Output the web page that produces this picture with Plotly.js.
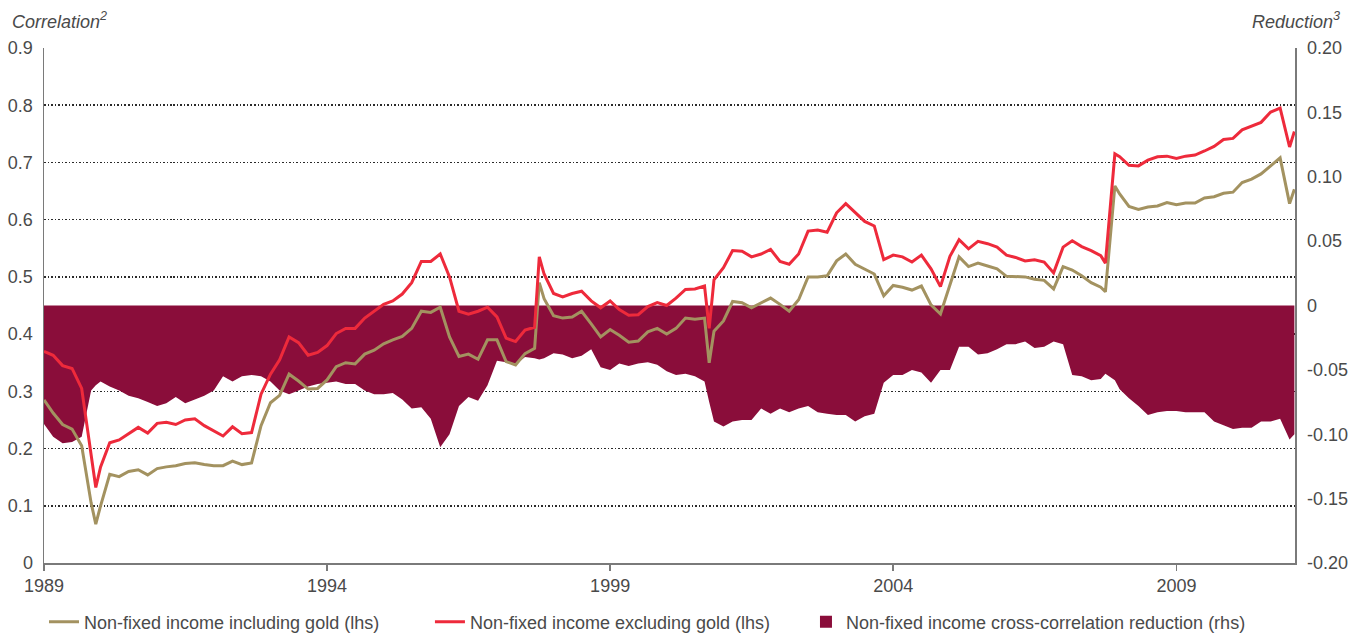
<!DOCTYPE html>
<html>
<head>
<meta charset="utf-8">
<script src="https://cdn.plot.ly/plotly-3.0.1.min.js"></script>
<style>
  html, body { margin: 0; padding: 0; background: #ffffff; }
  #chart { width: 1358px; height: 633px; }
</style>
</head>
<body>
<div id="chart"></div>
<script>
// ---- Data ----
const dates = [
  '1989-01','1989-03','1989-05','1989-07','1989-09','1989-11','1989-12',
  '1990-01','1990-03','1990-05','1990-07','1990-09','1990-11',
  '1991-01','1991-03','1991-05','1991-07','1991-09','1991-11',
  '1992-01','1992-03','1992-05','1992-07','1992-09','1992-11',
  '1993-01','1993-03','1993-05','1993-07','1993-09','1993-11',
  '1994-01','1994-03','1994-05','1994-07','1994-09','1994-11',
  '1995-01','1995-03','1995-05','1995-07','1995-09','1995-11',
  '1996-01','1996-03','1996-05','1996-07','1996-09','1996-11',
  '1997-01','1997-03','1997-05','1997-07','1997-09','1997-10','1997-11',
  '1998-01','1998-03','1998-05','1998-07','1998-09','1998-11',
  '1999-01','1999-03','1999-05','1999-07','1999-09','1999-11',
  '2000-01','2000-03','2000-05','2000-07','2000-09','2000-10','2000-11',
  '2001-01','2001-03','2001-05','2001-07','2001-09','2001-11',
  '2002-01','2002-03','2002-05','2002-07','2002-09','2002-11',
  '2003-01','2003-03','2003-05','2003-07','2003-09','2003-11',
  '2004-01','2004-03','2004-05','2004-07','2004-09','2004-11',
  '2005-01','2005-03','2005-05','2005-07','2005-09','2005-11',
  '2006-01','2006-03','2006-05','2006-07','2006-09','2006-11',
  '2007-01','2007-03','2007-05','2007-07','2007-09','2007-10','2007-12',
  '2008-01','2008-03','2008-05','2008-07','2008-09','2008-11',
  '2009-01','2009-03','2009-05','2009-07','2009-09','2009-11',
  '2010-01','2010-03','2010-05','2010-07','2010-09','2010-11',
  '2011-01','2011-02'
];

const excludingGold = [
  0.370,0.363,0.345,0.340,0.305,0.190,0.132,
  0.168,0.210,0.215,0.226,0.237,0.227,
  0.244,0.246,0.242,0.250,0.252,0.240,
  0.231,0.222,0.238,0.226,0.228,0.295,
  0.330,0.355,0.395,0.385,0.363,0.368,
  0.380,0.401,0.410,0.410,0.428,0.440,
  0.452,0.458,0.470,0.490,0.527,0.527,
  0.540,0.500,0.440,0.435,0.440,0.447,
  0.430,0.393,0.387,0.407,0.412,0.535,0.505,
  0.471,0.465,0.471,0.475,0.458,0.446,
  0.458,0.443,0.433,0.434,0.448,0.455,
  0.450,0.463,0.478,0.479,0.484,0.410,0.495,
  0.516,0.546,0.545,0.535,0.540,0.548,
  0.527,0.522,0.540,0.580,0.582,0.578,
  0.612,0.628,0.612,0.597,0.589,0.530,
  0.538,0.535,0.526,0.538,0.514,0.483,
  0.536,0.565,0.549,0.562,0.558,0.552,
  0.538,0.534,0.528,0.530,0.526,0.507,
  0.552,0.563,0.553,0.546,0.537,0.524,0.715,
  0.710,0.695,0.694,0.704,0.710,0.711,
  0.707,0.711,0.713,0.720,0.728,0.740,
  0.742,0.757,0.764,0.770,0.788,0.795,
  0.727,0.754
];

const includingGold = [
  0.285,0.262,0.242,0.234,0.205,0.105,0.068,
  0.100,0.155,0.151,0.160,0.163,0.154,
  0.165,0.168,0.170,0.174,0.175,0.172,
  0.170,0.170,0.178,0.172,0.175,0.240,
  0.280,0.293,0.330,0.318,0.304,0.305,
  0.320,0.343,0.350,0.348,0.365,0.372,
  0.383,0.390,0.396,0.410,0.440,0.438,
  0.447,0.395,0.361,0.365,0.356,0.390,
  0.390,0.352,0.346,0.366,0.375,0.490,0.462,
  0.432,0.428,0.430,0.440,0.418,0.395,
  0.408,0.398,0.386,0.388,0.404,0.410,
  0.400,0.410,0.428,0.426,0.428,0.350,0.405,
  0.423,0.457,0.455,0.446,0.454,0.463,
  0.452,0.440,0.460,0.500,0.500,0.502,
  0.528,0.540,0.522,0.514,0.505,0.467,
  0.485,0.482,0.477,0.484,0.451,0.435,
  0.486,0.535,0.518,0.524,0.519,0.514,
  0.501,0.500,0.500,0.496,0.494,0.479,
  0.518,0.512,0.502,0.490,0.482,0.474,0.659,
  0.645,0.623,0.618,0.622,0.624,0.630,
  0.626,0.629,0.629,0.638,0.640,0.646,
  0.648,0.665,0.671,0.680,0.694,0.708,
  0.628,0.653
];

const reduction = [
  -0.092,-0.102,-0.107,-0.106,-0.102,-0.066,-0.062,
  -0.059,-0.063,-0.066,-0.070,-0.072,-0.075,
  -0.078,-0.076,-0.071,-0.076,-0.073,-0.070,
  -0.066,-0.055,-0.059,-0.055,-0.054,-0.055,
  -0.059,-0.066,-0.069,-0.066,-0.063,-0.061,
  -0.060,-0.059,-0.061,-0.061,-0.066,-0.069,
  -0.069,-0.068,-0.073,-0.080,-0.079,-0.088,
  -0.110,-0.100,-0.078,-0.071,-0.074,-0.062,
  -0.043,-0.044,-0.046,-0.040,-0.041,-0.042,-0.041,
  -0.037,-0.038,-0.041,-0.039,-0.034,-0.048,
  -0.050,-0.045,-0.047,-0.045,-0.044,-0.046,
  -0.051,-0.054,-0.053,-0.055,-0.059,-0.075,-0.090,
  -0.094,-0.090,-0.089,-0.089,-0.080,-0.084,
  -0.080,-0.083,-0.080,-0.078,-0.083,-0.084,
  -0.085,-0.085,-0.090,-0.086,-0.084,-0.060,
  -0.054,-0.054,-0.050,-0.052,-0.060,-0.050,
  -0.050,-0.032,-0.032,-0.038,-0.037,-0.034,
  -0.030,-0.030,-0.028,-0.033,-0.032,-0.028,
  -0.030,-0.054,-0.055,-0.058,-0.057,-0.053,-0.058,
  -0.065,-0.072,-0.078,-0.085,-0.083,-0.082,
  -0.082,-0.083,-0.083,-0.083,-0.090,-0.093,
  -0.096,-0.095,-0.095,-0.090,-0.090,-0.088,
  -0.104,-0.100
];

const xTickVals = ['1989-01-01','1994-01-01','1999-01-01','2004-01-01','2009-01-01'];
const xTickText = ['1989','1994','1999','2004','2009'];
const leftTickVals = [0,0.1,0.2,0.3,0.4,0.5,0.6,0.7,0.8,0.9];
const leftTickText = ['0','0.1','0.2','0.3','0.4','0.5','0.6','0.7','0.8','0.9'];
const rightTickVals = [-0.2,-0.15,-0.1,-0.05,0,0.05,0.1,0.15,0.2];
const rightTickText = ['-0.20','-0.15','-0.10','-0.05','0','0.05','0.10','0.15','0.20'];

const seriesNames = [
  'Non-fixed income including gold (lhs)',
  'Non-fixed income excluding gold (lhs)',
  'Non-fixed income cross-correlation reduction (rhs)'
];

// ---- Styles ----
const GOLD = '#a39260';
const RED = '#ee2a3b';
const WINE = '#8a0d3a';
const TEXT = '#4a4a4a';
const AXIS = '#7a7a7a';
const FONT = 'Liberation Sans, Arial, sans-serif';

// Base axis 'y' = right-hand reduction scale (drawn first, underneath);
// overlaying axis 'y2' = left-hand correlation scale (lines drawn on top).
const traces = [
  {
    type: 'scatter', x: dates, y: reduction, yaxis: 'y',
    mode: 'none', fill: 'tozeroy', fillcolor: WINE,
    showlegend: false, hoverinfo: 'skip'
  },
  {
    type: 'bar', x: [null], y: [null], yaxis: 'y',
    marker: { color: WINE }, name: seriesNames[2],
    legend: 'legend3', hoverinfo: 'skip'
  },
  {
    type: 'scatter', x: dates, y: includingGold, mode: 'lines', yaxis: 'y2',
    line: { color: GOLD, width: 3 }, name: seriesNames[0],
    legend: 'legend', hoverinfo: 'skip'
  },
  {
    type: 'scatter', x: dates, y: excludingGold, mode: 'lines', yaxis: 'y2',
    line: { color: RED, width: 3 }, name: seriesNames[1],
    legend: 'legend2', hoverinfo: 'skip'
  }
];

const legendBase = {
  orientation: 'h', xanchor: 'left', yanchor: 'middle', y: 0.0174,
  xref: 'container', yref: 'container',
  bgcolor: 'rgba(0,0,0,0)', borderwidth: 0,
  font: { size: 18, color: TEXT, family: FONT }
};

const layout = {
  width: 1358, height: 633,
  margin: { l: 44, r: 63, t: 48, b: 70 },
  paper_bgcolor: '#ffffff', plot_bgcolor: '#ffffff',
  font: { family: FONT, color: TEXT, size: 18 },
  showlegend: true,
  xaxis: {
    type: 'date', range: ['1989-01-01', '2011-02-05'],
    tickmode: 'array', tickvals: xTickVals, ticktext: xTickText,
    ticks: 'outside', ticklen: 6, tickwidth: 1.5, tickcolor: AXIS,
    showline: true, linecolor: AXIS, linewidth: 1.5,
    showgrid: false, zeroline: false,
    tickfont: { size: 18, color: TEXT }
  },
  yaxis: {
    side: 'right', range: [-0.2, 0.2],
    tickmode: 'array', tickvals: rightTickVals, ticktext: rightTickText,
    showgrid: false, zeroline: false,
    showline: true, linecolor: AXIS, linewidth: 1.5,
    ticks: '', ticklabelstandoff: 7,
    tickfont: { size: 18, color: TEXT }
  },
  yaxis2: {
    overlaying: 'y', side: 'left', range: [0, 0.9], tickmode: 'array',
    tickvals: leftTickVals, ticktext: leftTickText,
    showgrid: true, gridcolor: '#2a2a2a', gridwidth: 1.5, griddash: '1.5px,2px',
    showline: true, linecolor: AXIS, linewidth: 1.5,
    ticks: '', zeroline: false, ticklabelstandoff: 6,
    tickfont: { size: 18, color: TEXT }
  },
  legend: Object.assign({}, legendBase, { x: 0.0324 }),
  legend2: Object.assign({}, legendBase, { x: 0.3166 }),
  legend3: Object.assign({}, legendBase, { x: 0.5935 }),
  annotations: [
    {
      text: 'Correlation<sup>2</sup>', xref: 'paper', yref: 'paper',
      x: -0.0272, y: 1.054, xanchor: 'left', yanchor: 'middle', showarrow: false,
      font: { size: 18, style: 'italic', color: TEXT, family: FONT }
    },
    {
      text: 'Reduction<sup>3</sup>', xref: 'paper', yref: 'paper',
      x: 1.0376, y: 1.054, xanchor: 'right', yanchor: 'middle', showarrow: false,
      font: { size: 18, style: 'italic', color: TEXT, family: FONT }
    }
  ]
};

Plotly.newPlot('chart', traces, layout, { displayModeBar: false, staticPlot: true });
</script>
</body>
</html>
